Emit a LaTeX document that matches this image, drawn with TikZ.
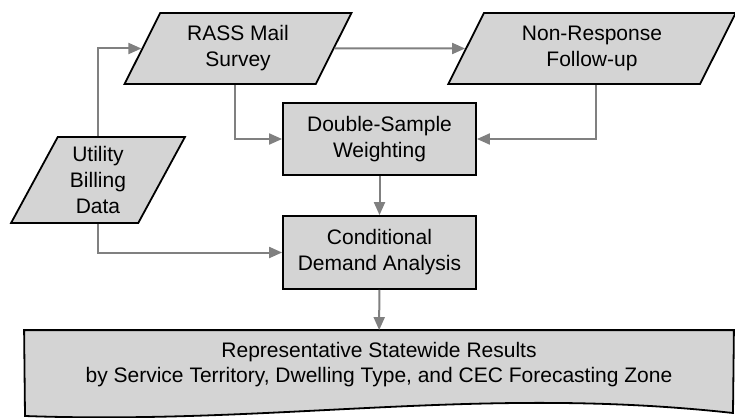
\documentclass[tikz,border=0pt]{standalone}
\usepackage{fontspec}
\setmainfont{Liberation Sans}
\usetikzlibrary{shapes.geometric,arrows.meta,backgrounds}

\tikzset{
    box/.style={draw=black, line width=1.8bp, fill=black!17, align=center, font=\fontsize{21bp}{26bp}\selectfont, inner sep=2bp},
    datain/.style={box, trapezium, trapezium left angle=64, trapezium right angle=116, trapezium stretches=true},
    procbox/.style={box, rectangle, minimum width=193bp, minimum height=72bp},
    docshape/.style={draw=black, line width=1.8bp, fill=black!17},
    flow/.style={draw=black!50, line width=2bp, -{Triangle[length=13bp,width=11bp]}}
}

\begin{document}
\begin{tikzpicture}[x=1bp,y=1bp]
    \useasboundingbox (0,0) rectangle (735,417);

    \begin{scope}[every node/.style={datain}]
        \node[minimum width=227bp, minimum height=71bp] (rass) at (238,368.5) {RASS Mail\\Survey};
        \node[minimum width=288bp, minimum height=71bp] (nrf) at (592,368.5) {Non-Response\\Follow-up};
        \node[minimum width=174bp, minimum height=86bp] (util) at (98,237) {Utility\\Billing\\Data};
    \end{scope}

    \node[procbox] (dsw) at (379.5,278) {Double-Sample\\Weighting};
    \node[procbox, minimum height=73bp] (cda) at (379.5,164.5) {Conditional\\Demand Analysis};

    \node[box, draw=none, fill=none, font=\fontsize{21bp}{25bp}\selectfont, minimum width=708bp, minimum height=68bp] (results) at (379,52)
        {Representative Statewide Results\\by Service Territory, Dwelling Type, and CEC Forecasting Zone};
    \begin{scope}[on background layer]
        \draw[docshape] (results.north west) -- (results.north east) -- (733,4)
            .. controls (480,32) and (280,-8) .. (25,1) -- cycle;
    \end{scope}

    \begin{scope}[every edge/.style={flow}]
        \path (util.north) edge[to path={|- (\tikztotarget)}] (rass);
        \path (rass) edge (nrf);
        \path ([xshift=-3bp]rass.south) edge[to path={|- (\tikztotarget)}] (dsw);
        \path ([xshift=4bp]nrf.south) edge[to path={|- (\tikztotarget)}] (dsw);
        \path (dsw) edge (cda);
        \path (util.south) edge[to path={|- (\tikztotarget)}] (cda);
        \path (cda) edge (results);
    \end{scope}
\end{tikzpicture}
\end{document}
